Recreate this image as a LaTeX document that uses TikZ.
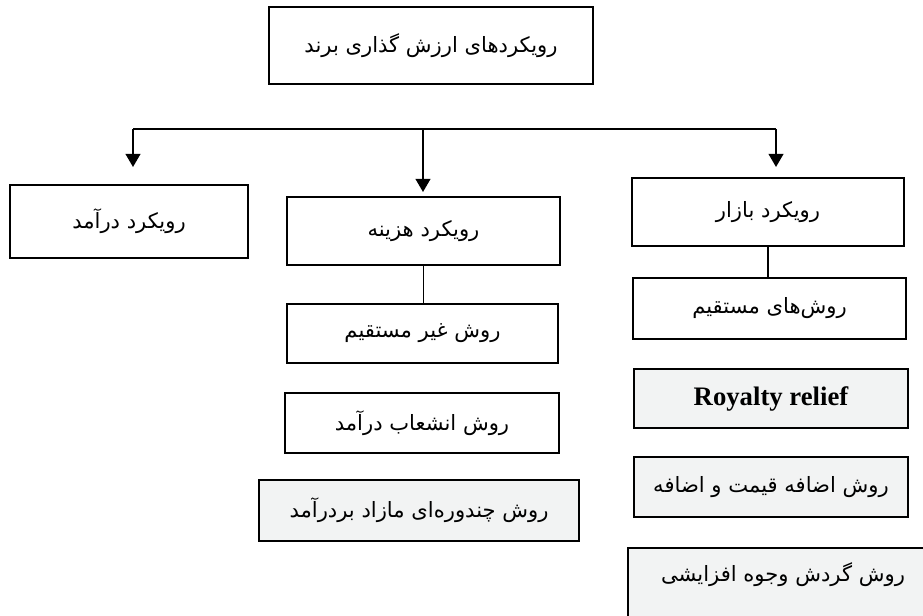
\documentclass[tikz,border=0pt]{standalone}
\usepackage{fontspec}
\usepackage{tikz}
\usetikzlibrary{arrows.meta}
\TeXXeTstate=1
\newfontfamily\farsi[Script=Arabic]{DejaVu Sans}
\newfontfamily\latn{Liberation Serif}
\definecolor{vgry}{RGB}{242,243,243}
\newcommand{\fa}[1]{{\farsi\beginR #1\endR}}% right-to-left text
\tikzset{
  vbox/.style={draw,line width=2.1pt,fill=white,inner sep=0pt,font=\fontsize{15}{18}\selectfont},
  vboxG/.style={vbox,fill=vgry},
  vlink/.style={line width=1.4pt},
  varrow/.style={vlink,-{Triangle[length=3.3mm,width=3.7mm]}},
}

\begin{document}
\begin{tikzpicture}
\useasboundingbox (0,0) rectangle (23.075,-15.375);
\clip (0,0) rectangle (23.075,-15.375);
% ---- the root, on its own
\node[vbox,minimum width=8.1cm,minimum height=1.925cm] (root) at (10.775,-1.1375) {\fa{رویکردهای ارزش گذاری برند}};
% ---- the bus and the three arrows
\coordinate (busL) at (3.325,-3.225);
\coordinate (busM) at (10.575,-3.225);
\coordinate (busR) at (19.4,-3.225);
\coordinate (tipL) at (3.325,-4.175);
\coordinate (tipM) at (10.575,-4.8);
\coordinate (tipR) at (19.4,-4.175);
\draw[vlink] (busL) -- (busR);
\draw[varrow] (busL) -- (tipL);
\draw[varrow] (busM) -- (tipM);
\draw[varrow] (busR) -- (tipR);
% ---- the three approaches
\node[vbox,minimum width=5.95cm,minimum height=1.825cm] (income) at (3.225,-5.5375) {\fa{رویکرد درآمد}};
\node[vbox,minimum width=6.825cm,minimum height=1.7cm] (cost) at (10.5875,-5.775) {\fa{رویکرد هزینه}};
\node[vbox,minimum width=6.8cm,minimum height=1.7cm] (market) at (19.2,-5.3) {\fa{رویکرد بازار}};
% ---- cost side
\node[vbox,minimum width=6.775cm,minimum height=1.475cm] (indirect) at (10.5625,-8.3375) {\fa{روش غیر مستقیم}};
\node[vbox,minimum width=6.85cm,minimum height=1.5cm] (split) at (10.55,-10.575) {\fa{روش انشعاب درآمد}};
\node[vboxG,minimum width=8cm,minimum height=1.525cm] (multi) at (10.475,-12.7625) {\fa{روش چندوره‌ای مازاد بردرآمد}};
\draw[vlink] (cost.south) -- (cost.south |- indirect.north);
% ---- market side
\node[vbox,minimum width=6.825cm,minimum height=1.525cm] (direct) at (19.2375,-7.7125) {\fa{روش‌های مستقیم}};
\node[vboxG,minimum width=6.85cm,minimum height=1.475cm,font=\latn\bfseries\fontsize{19}{22}\selectfont] (royalty) at (19.275,-9.9625) {Royalty relief};
\node[vboxG,minimum width=6.85cm,minimum height=1.5cm] (premium) at (19.275,-12.175) {\fa{روش اضافه قیمت و اضافه}};
\node[vboxG,minimum width=7.75cm,minimum height=2cm,text depth=0.8cm] (cashflow) at (19.575,-14.7) {\fa{روش گردش وجوه افزایشی}};
\draw[vlink] (market.south) -- (market.south |- direct.north);
\end{tikzpicture}
\end{document}
